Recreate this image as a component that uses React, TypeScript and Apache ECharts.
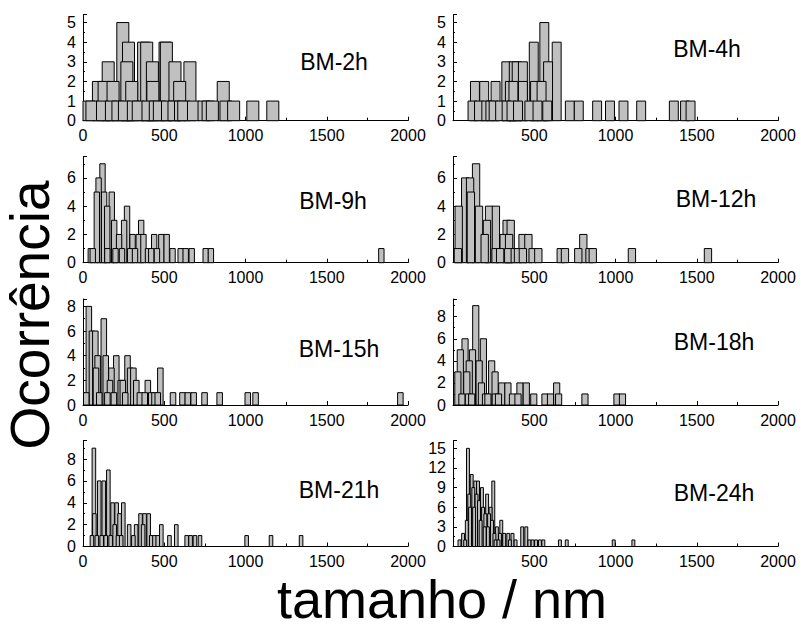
import React, { useEffect, useRef } from "react";
import * as echarts from "echarts";

// ---- data: [bin centre (nm), occurrence] ----
const panelNames = ["BM-2h", "BM-4h", "BM-9h", "BM-12h", "BM-15h", "BM-18h", "BM-21h", "BM-24h"];

const bm2h = [[37,1],[55,1],[95,2],[120,1],[130,2],[155,3],[175,1],[185,2],[215,1],[245,5],[255,1],[270,3],[280,4],[300,2],[310,1],[340,1],[373,4],[392,4],[400,1],[427,3],[430,2],[445,1],[470,1],[505,4],[513,4],[520,1],[560,1],[566,3],[595,2],[600,1],[620,1],[658,3],[680,1],[745,1],[770,1],[796,1],[863,2],[880,1],[927,1],[1045,1],[1168,1]];
const bm4h = [[135,2],[192,2],[120,1],[160,1],[205,1],[230,1],[262,2],[250,1],[290,1],[328,3],[374,3],[392,3],[430,3],[350,2],[372,2],[430,2],[505,2],[545,2],[497,4],[562,5],[585,3],[638,4],[330,1],[360,1],[400,1],[470,1],[520,1],[580,1],[719,1],[774,1],[887,1],[966,1],[1049,1],[1158,1],[1359,1],[1428,1],[1462,1]];
const bm9h = [[48,1],[85,5],[96,6],[120,7],[130,5],[149,4],[177,5],[192,3],[222,2],[253,3],[271,4],[305,2],[343,2],[358,3],[372,2],[438,2],[482,2],[515,2],[60,1],[150,1],[200,1],[240,1],[290,1],[320,1],[400,1],[420,1],[455,1],[551,1],[601,1],[632,1],[669,1],[755,1],[787,1],[1836,1]];
const bm12h = [[35,4],[30,1],[75,6],[105,6],[110,5],[142,7],[160,4],[195,2],[209,3],[222,4],[264,4],[312,2],[330,3],[355,3],[345,2],[428,2],[464,2],[262,1],[290,1],[340,1],[380,1],[400,1],[430,1],[490,1],[525,1],[663,1],[689,1],[771,1],[802,2],[840,1],[860,1],[1101,1],[1569,1]];
const bm15h = [[20,1],[36,8],[55,6],[76,6],[80,3],[90,4],[100,1],[128,7],[140,4],[150,1],[166,2],[175,3],[190,1],[205,4],[232,2],[245,2],[260,1],[274,4],[290,3],[310,3],[328,2],[350,1],[380,1],[399,2],[420,1],[440,1],[460,1],[476,3],[554,1],[612,1],[645,1],[681,1],[748,1],[841,1],[1014,1],[1062,1],[1953,1]];
const bm18h = [[30,3],[45,5],[55,1],[74,6],[85,3],[95,1],[100,4],[115,1],[120,5],[140,9],[161,4],[175,2],[187,6],[200,1],[215,1],[238,4],[259,3],[260,1],[280,1],[300,2],[338,2],[366,1],[400,1],[412,2],[451,2],[497,1],[566,1],[600,1],[638,2],[650,1],[812,1],[1009,1],[1043,1]];
const bm21h = [[55,1],[67,9],[70,3],[85,1],[100,6],[115,1],[128,6],[140,1],[156,7],[170,1],[182,4],[195,2],[207,4],[215,1],[225,3],[235,1],[248,4],[284,2],[310,1],[327,2],[354,3],[370,2],[379,3],[404,3],[420,1],[440,1],[460,1],[482,2],[532,1],[574,2],[638,1],[662,1],[689,1],[720,1],[1007,1],[1157,1],[1342,1]];
const bm24h = [[40,1],[62,2],[75,1],[85,4],[92,15],[100,8],[105,6],[115,11],[125,9],[130,6],[137,10],[145,8],[154,10],[160,7],[170,4],[178,9],[185,6],[195,3],[199,5],[210,8],[215,3],[222,5],[231,6],[240,4],[248,10],[255,2],[262,1],[270,3],[280,1],[289,2],[297,4],[315,2],[340,2],[350,1],[366,2],[385,1],[426,3],[451,3],[470,1],[490,1],[511,1],[535,1],[556,1],[658,1],[700,1],[989,1],[1110,1]];

const panelData = [bm2h, bm4h, bm9h, bm12h, bm15h, bm18h, bm21h, bm24h];
const binWidths = [74, 55, 33, 45, 34, 38, 22, 18];
const yMax = [5.4, 5.4, 7.5, 7.5, 8.6, 9.6, 9.7, 16.2];
const yInterval = [1, 1, 2, 2, 2, 2, 2, 3];

const FONT = 'Arial, "Liberation Sans", Helvetica, sans-serif';

export default function App() {
  const ref = useRef<HTMLDivElement>(null);
  useEffect(() => {
    if (!ref.current) return;
    const chart = echarts.init(ref.current, null, { renderer: "svg" });
    const rowBottoms = [120.7, 262.7, 405, 546.5];
    const gridH = 106;
    const grids: any[] = [];
    const xAxes: any[] = [];
    const yAxes: any[] = [];
    const series: any[] = [];
    const graphics: any[] = [];
    const labelPos = [
      [334, 62], [707, 49], [333, 201], [716, 199],
      [339, 349], [714, 342], [339, 490], [714, 493],
    ];
    panelData.forEach((data, i) => {
      const col = i % 2;
      const row = Math.floor(i / 2);
      const left = col === 0 ? 83 : 453;
      const width = 325;
      grids.push({ left, width, top: rowBottoms[row] - gridH, height: gridH, containLabel: false });
      xAxes.push({
        type: "value", gridIndex: i, min: 0, max: 2000, interval: 500,
        axisLine: { show: true, onZero: false, lineStyle: { color: "#000", width: 1 } },
        axisTick: { show: true, inside: true, length: 4, lineStyle: { color: "#000" } },
        minorTick: { show: true, splitNumber: 2, length: 3, lineStyle: { color: "#000" } },
        splitLine: { show: false },
        axisLabel: {
          color: "#000", fontSize: 16, fontFamily: FONT, margin: 7, showMinLabel: col === 0,
          formatter: (v: number) => String(v),
        },
      });
      yAxes.push({
        type: "value", gridIndex: i, min: 0, max: yMax[i], interval: yInterval[i],
        axisLine: { show: true, lineStyle: { color: "#000", width: 1 } },
        axisTick: { show: true, inside: true, length: 4, lineStyle: { color: "#000" } },
        minorTick: { show: true, splitNumber: 2, length: 2, lineStyle: { color: "#000" } },
        splitLine: { show: false },
        axisLabel: {
          color: "#000", fontSize: 16, fontFamily: FONT, margin: 7, showMaxLabel: false,
          formatter: (v: number) => String(v),
        },
      });
      const w = binWidths[i];
      const sorted = [...data].sort((a, b) => b[1] - a[1]);
      series.push({
        type: "custom", xAxisIndex: i, yAxisIndex: i, data: sorted,
        renderItem: (_p: any, api: any) => {
          const c = api.value(0);
          const n = api.value(1);
          const p0 = api.coord([c - w / 2, n]);
          const p1 = api.coord([c + w / 2, 0]);
          return {
            type: "rect",
            shape: { x: p0[0], y: p0[1], width: p1[0] - p0[0], height: p1[1] - p0[1] },
            style: { fill: "#c0c0c0", stroke: "#000", lineWidth: 1 },
          };
        },
      });
      graphics.push({
        type: "text", x: labelPos[i][0], y: labelPos[i][1],
        style: { text: panelNames[i], fontSize: 23, fontFamily: FONT, fill: "#000", textAlign: "center", textVerticalAlign: "middle" },
      });
    });
    graphics.push({
      type: "text", x: 442, y: 599,
      style: { text: "tamanho / nm", fontSize: 54, fontFamily: FONT, fill: "#000", textAlign: "center", textVerticalAlign: "middle" },
    });
    graphics.push({
      type: "text", x: 30, y: 315, rotation: Math.PI / 2,
      style: { text: "Ocorrência", fontSize: 55, fontFamily: FONT, fill: "#000", textAlign: "center", textVerticalAlign: "middle" },
    });
    chart.setOption({
      animation: false,
      backgroundColor: "#fff",
      grid: grids,
      xAxis: xAxes,
      yAxis: yAxes,
      series,
      graphic: graphics,
    });
    return () => chart.dispose();
  }, []);
  return <div ref={ref} style={{ position: "fixed", left: 0, top: 0, width: 802, height: 630 }} />;
}
